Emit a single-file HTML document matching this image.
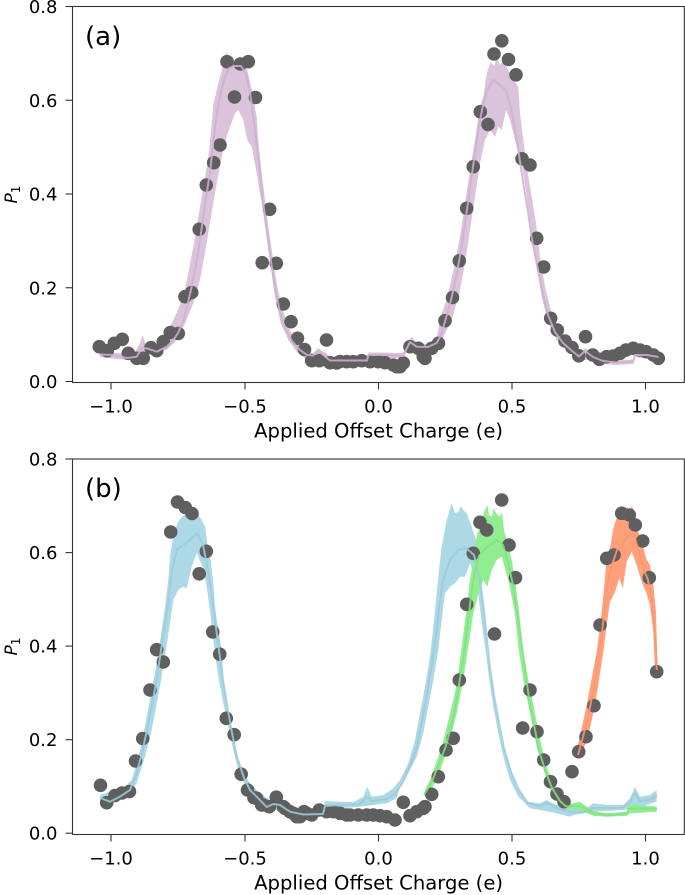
<!DOCTYPE html>
<html><head><meta charset="utf-8"><style>html,body{margin:0;padding:0;background:#fff}svg{display:block}</style></head>
<body>
<svg width="685" height="895" viewBox="0 0 685 895" xmlns="http://www.w3.org/2000/svg" font-family="'DejaVu Sans','Liberation Sans',sans-serif">
<rect width="685" height="895" fill="#fff"/>

<!-- ===== Panel (a) ===== -->
<polygon fill="#dbc3dc" points="99.3,351.7 120,353.3 133.3,355 140,343 142.7,335 145,343 153.3,346.7 160,343 166.7,333.3 175,316.7 183.3,296.7 188.3,273.3 193.3,246.7 197.3,223.3 201.7,196.7 205.7,173.3 209.3,150 211.7,123.3 213.3,105 218.3,83.3 222.7,66.7 226.7,51.7 229.3,60 232,56 236.7,65 240,58 243.3,63.3 247.3,70 251.7,90 256.7,116.7 258.3,140 261.7,173.3 265,200 268.3,226.7 272.7,256.7 277.3,286.7 282.7,310 290,330 298.3,345 306.7,351.7 313.3,353.3 318.3,348 322,351 326.7,353.3 330,358 366.7,358.5 368.3,352.5 380,352.5 396.7,353 403.3,352.5 406.7,345 411.7,336.7 416.7,343.3 430,344 436.7,338.3 440,320 448.3,293.3 455,263.3 460,236.7 465,203.3 470,170 475,140 480,106.7 483.3,96.7 486.7,73.3 490.7,61.7 494,66 497,58 500,65 503,61 507.3,68.3 513.3,80 518.3,86.7 520,113.3 523.3,140 527.3,170 531.7,196.7 536,223.3 540,256.7 545,286.7 551.7,313.3 560,330 570,343.3 573.3,351.5 580,355.5 585,348 593.3,354.5 603.3,359 616.7,360.5 633.3,359.5 635,352 646.7,352 658.5,354.5 658.5,359 646.7,358 635,357.5 633.3,364 616.7,365 603.3,364 593.3,360 580,360 578.3,355 566.7,350 556.7,340 548.3,323.3 541.7,296.7 536.7,266.7 531.7,233.3 526.7,196.7 521.7,163.3 515,140 510,120 506,110 501.7,130 498.3,126.7 495,136.7 490,130 485,140 480,163.3 475,196.7 470,230 465,263.3 459.3,293.3 451.7,320 443,338 436.7,347 425,349 416.7,349 411.7,344 406.7,351 403.3,358 368.3,358 366.7,362.5 330,362.5 320,357 310,358.5 305,358.3 296.7,351.7 288.3,340 280.7,323.3 275,296.7 270.7,266.7 266,233.3 261.7,203.3 256.7,173.3 251.7,146.7 247.3,140 243.3,120 238.3,110 235,113.3 230,126.7 226.7,136.7 223.3,150 217.3,180 213.3,203.3 209.3,226.7 205,253.3 200,280 193.3,303.3 185,323.3 176.7,340 166.7,350 153.3,353 140,357 126.7,360 100,357.3"/>

<g fill="#5f5f5f">
<circle cx="99.3" cy="346.7" r="6.8"/><circle cx="107.3" cy="350.7" r="6.8"/><circle cx="114.3" cy="343.3" r="6.8"/><circle cx="122.3" cy="339.3" r="6.8"/><circle cx="128.3" cy="353.3" r="6.8"/><circle cx="136.7" cy="358.3" r="6.8"/><circle cx="143.3" cy="358.3" r="6.8"/><circle cx="151" cy="347.7" r="6.8"/><circle cx="156.7" cy="350.7" r="6.8"/><circle cx="163.3" cy="341.7" r="6.8"/><circle cx="170.3" cy="332.5" r="6.8"/><circle cx="178.3" cy="333.5" r="6.8"/><circle cx="185" cy="296.7" r="6.8"/><circle cx="191.7" cy="292.5" r="6.8"/><circle cx="199.2" cy="229.3" r="6.8"/><circle cx="206.3" cy="185" r="6.8"/><circle cx="213.7" cy="162.7" r="6.8"/><circle cx="220" cy="145" r="6.8"/><circle cx="227" cy="61.7" r="6.8"/><circle cx="240.3" cy="64" r="6.8"/><circle cx="248.3" cy="61.7" r="6.8"/><circle cx="234.5" cy="97" r="6.8"/><circle cx="255.5" cy="97.5" r="6.8"/><circle cx="269.7" cy="209.3" r="6.8"/><circle cx="262.2" cy="262.7" r="6.8"/><circle cx="276.3" cy="263.3" r="6.8"/><circle cx="283.3" cy="304" r="6.8"/><circle cx="291" cy="321.7" r="6.8"/><circle cx="297.5" cy="338.3" r="6.8"/><circle cx="304.5" cy="349.5" r="6.8"/><circle cx="311.7" cy="360.7" r="6.8"/><circle cx="319.3" cy="360.7" r="6.8"/><circle cx="326.5" cy="340" r="6.8"/><circle cx="330" cy="362.7" r="6.8"/><circle cx="336.7" cy="363" r="6.8"/><circle cx="340" cy="361.5" r="6.8"/><circle cx="346.7" cy="361.7" r="6.8"/><circle cx="353.3" cy="361.7" r="6.8"/><circle cx="361.7" cy="360.7" r="6.8"/><circle cx="370" cy="361.7" r="6.8"/><circle cx="378.3" cy="361.7" r="6.8"/><circle cx="385" cy="362.7" r="6.8"/><circle cx="393.3" cy="365" r="6.8"/><circle cx="396.7" cy="366.7" r="6.8"/><circle cx="400" cy="366.7" r="6.8"/><circle cx="403.3" cy="363" r="6.8"/><circle cx="410" cy="346.7" r="6.8"/><circle cx="418.3" cy="348.3" r="6.8"/><circle cx="423.3" cy="356.7" r="6.8"/><circle cx="425" cy="358.3" r="6.8"/><circle cx="431.7" cy="348.3" r="6.8"/><circle cx="438.5" cy="343.3" r="6.8"/><circle cx="445" cy="320.7" r="6.8"/><circle cx="452.5" cy="297.5" r="6.8"/><circle cx="459.3" cy="260.8" r="6.8"/><circle cx="466.7" cy="208.3" r="6.8"/><circle cx="473.3" cy="166.7" r="6.8"/><circle cx="480.3" cy="111.7" r="6.8"/><circle cx="488" cy="124.5" r="6.8"/><circle cx="494" cy="54" r="6.8"/><circle cx="501.8" cy="40.8" r="6.8"/><circle cx="508.5" cy="59.5" r="6.8"/><circle cx="516" cy="74.8" r="6.8"/><circle cx="522" cy="158.8" r="6.8"/><circle cx="530" cy="165" r="6.8"/><circle cx="536.7" cy="238.3" r="6.8"/><circle cx="543.7" cy="267" r="6.8"/><circle cx="550.7" cy="318.3" r="6.8"/><circle cx="557.3" cy="330" r="6.8"/><circle cx="565" cy="341" r="6.8"/><circle cx="572" cy="347.5" r="6.8"/><circle cx="578.8" cy="355.8" r="6.8"/><circle cx="585.5" cy="336.7" r="6.8"/><circle cx="592.7" cy="355" r="6.8"/><circle cx="599.3" cy="359.3" r="6.8"/><circle cx="606.7" cy="356.7" r="6.8"/><circle cx="613.3" cy="356" r="6.8"/><circle cx="620" cy="353.3" r="6.8"/><circle cx="626" cy="350" r="6.8"/><circle cx="633.3" cy="348.3" r="6.8"/><circle cx="640" cy="350" r="6.8"/><circle cx="646" cy="351.7" r="6.8"/><circle cx="653.3" cy="355" r="6.8"/><circle cx="658.3" cy="358.3" r="6.8"/>
</g>

<polyline fill="none" stroke="#ceb0cf" stroke-width="2" stroke-linejoin="round" opacity="0.85" points="99.3,354.5 113.3,355 126.7,358 136.7,356.7 141.7,348.3 146.7,348.3 156.7,351.7 166.7,346.7 173.3,340 178,333 183,322 187.5,305 192,285 196.5,262 200,240 203.5,215 207,192 210.5,168 213,145 216,120 219.5,98 224,80 229,68 235,66 241,66 246,74 250,92 253,115 255.5,135 258,155 260.5,180 263.5,205 267,230 270.5,258 274.5,285 279.5,310 285,328 292,341 300,350 307,355 313,355.5 318,351 322,354 330,360.5 367,360.5 368.3,355 390,355 403.3,356 407,348 410,342 416.7,346.7 428,347 436.7,343 441,335 446,318 451,300 456,278 461,250 465.5,220 469.5,192 473.5,163 477.5,135 482,110 487,90 493,80 500,85 506,90 511,108 515.5,132 519.5,158 523.5,185 528,212 532,240 537,265 542,290 548,315 555,332 563,343 571,350 579,356.5 585,351 593,357 603,361 617,362.5 633.3,361.5 635,355 646.7,355 658.5,357"/>

<!-- axes (a) -->
<g stroke="#333" stroke-width="1.1" fill="none">
<rect x="72.5" y="6.5" width="611.8" height="376"/>
<line x1="65.5" y1="381.5" x2="72.5" y2="381.5"/><line x1="65.5" y1="287.75" x2="72.5" y2="287.75"/><line x1="65.5" y1="194" x2="72.5" y2="194"/><line x1="65.5" y1="100.25" x2="72.5" y2="100.25"/><line x1="65.5" y1="6.5" x2="72.5" y2="6.5"/>
<line x1="111" y1="382.5" x2="111" y2="389.5"/><line x1="245" y1="382.5" x2="245" y2="389.5"/><line x1="378.5" y1="382.5" x2="378.5" y2="389.5"/><line x1="512" y1="382.5" x2="512" y2="389.5"/><line x1="645.5" y1="382.5" x2="645.5" y2="389.5"/>
</g>
<g font-size="18" fill="#000" text-anchor="end">
<text x="57.5" y="388">0.0</text><text x="57.5" y="294.3">0.2</text><text x="57.5" y="200.5">0.4</text><text x="57.5" y="106.8">0.6</text><text x="57.5" y="13">0.8</text>
</g>
<g font-size="18" fill="#000" text-anchor="middle">
<text x="111" y="412.5">−1.0</text><text x="245" y="412.5">−0.5</text><text x="378.5" y="412.5">0.0</text><text x="512" y="412.5">0.5</text><text x="645.5" y="412.5">1.0</text>
</g>
<text x="378.6" y="437.4" font-size="19.6" text-anchor="middle" fill="#000">Applied Offset Charge (e)</text>
<text transform="translate(17,194.5) rotate(-90)" text-anchor="middle" font-size="17" fill="#000"><tspan font-style="italic">P</tspan><tspan font-size="12" dy="3">1</tspan></text>
<text x="85" y="45" font-size="26" fill="#000">(a)</text>

<!-- ===== Panel (b) ===== -->
<polygon fill="#add8e6" points="100,795 110,791.7 123.3,788.3 131.7,780 136.7,763.3 141.7,743.3 146.7,716.7 151.7,690 156.7,663.3 160.7,636.7 165,606.7 168.3,580 170,556.7 173.3,536.7 177.3,523.3 181.7,516.7 186,514 190,513.3 193,509 196.7,510 199,516 201.7,520 205,526.7 207.3,543.3 210.7,560 213.3,583.3 215,606.7 218.3,630 221.7,650 223.3,676.7 226.7,703.3 231.7,730 236.7,753.3 243.3,773.3 250,783.3 260,793.3 270,800 276.7,798.3 290,806.7 303.3,810 323,811 325,801 353.3,802.3 363.3,796.7 367.3,786.7 371.7,796.7 383.3,795 393.3,788.3 400,780 408.3,763.3 415,740 420,713.3 425,686.7 430,656.7 433.3,626.7 436.7,593.3 439.3,566.7 441.7,546.7 446.7,520 451.7,503.3 455,513.3 458.3,511.7 461,506 463.3,510 466.7,513.3 471.7,526.7 476,540 478.3,566.7 481.7,590 485,620 487.3,653.3 491.7,680 496.7,713.3 501.7,740 508.3,763.3 516.7,786.7 526.7,801.7 540,803.3 546.7,800 556.7,805 570,808.3 586.7,808.3 593.3,803.3 606.7,805 623.3,805 630,798.3 635,786.7 640,796.7 650,795 656.7,790 656.7,801.7 640,806.7 623.3,810 593.3,811.7 573.3,815 570,816.7 556.7,813.3 540,810 530,808.3 518.3,796.7 510,780 503.3,756.7 498.3,733.3 493.3,706.7 489.3,680 486,653.3 481.7,623.3 478.3,593.3 475,576.7 470,563.3 465,576.7 460,576.7 455,583.3 450,586.7 445,593.3 441.7,620 438.3,650 433.3,680 428.3,706.7 423.3,733.3 416.7,756.7 408.3,773.3 400,786.7 396.7,798.3 386.7,803.3 373.3,805 360,806.7 340,808.3 325,808.5 323,816 310,818.3 296.7,820 283.3,815 273.3,808.3 263.3,806.7 253.3,796.7 245,785 238.3,770 233.3,750 228.3,726.7 223.3,703.3 218.3,676.7 214,646.7 210.7,616.7 206.7,586.7 202.7,566.7 196.7,553.3 191.7,566.7 186.7,588.3 182.7,586.7 178.3,590 173.3,600 170,623.3 166,650 161.7,676.7 156.7,703.3 151.7,730 145,756.7 136.7,783.3 126.7,795 116.7,801.7 105,805 100,801.7"/>

<polygon fill="#90ee90" points="423.3,795 426,788 430,780 436,763 441.7,746.7 446,730 450,713.3 454,697 457.3,680 461.7,646.7 466,613.3 470,580 473.3,560 475,546.7 477.3,533.3 481.7,523.3 484,512 487.3,505 489,515 491.7,516.7 494,508 496,513.3 500,516.7 502,512 504,530 508.3,546.7 511.7,560 515,580 519.3,613.3 522.7,646.7 528.3,680 535,713.3 541.7,746.7 546,765 551.7,780 558.3,796.7 566.7,804 573.3,803.3 580,801.7 586.7,806.7 593.3,811 606.7,813.3 626.7,811.7 628.3,804.7 640,804.7 656.7,806.7 656.7,811.7 630,813.3 626.7,815.7 606.7,816.7 593.3,815.7 580,810 570,809 563.3,810 553.3,796.7 546.7,780 536.7,746.7 530,713.3 523.3,680 518.3,646.7 515,613.3 508.3,580 501.7,556.7 496.7,560 491.7,570 487.3,586.7 483.3,580 478,595 473.3,613.3 468.3,646.7 463.3,680 456.7,713.3 448.3,746.7 436.7,780 428,795"/>

<polygon fill="#ffa07a" points="576.7,750 581.7,728.3 586.7,705 591.7,678.3 596.7,651.7 600.7,621.7 604,588.3 606.7,558.3 610.7,545 613.3,528.3 616.7,518.3 621,505 623,511 625,511.7 627,507 630,510 632,506 635,515 638.3,531.7 642.7,545 646,558.3 650,565 653.3,585 656,611.7 657.3,658.3 658.3,671.7 655,671.7 653.3,631.7 650,605 646,591.7 641.7,581.7 636.7,565 631.7,551.7 626.7,561.7 622.7,588.3 619.3,578.3 615,591.7 610,601.7 606.7,625 603.3,651.7 599.3,678.3 595,705 590,728.3 585,745 579.3,756.7"/>

<g fill="#5f5f5f">
<circle cx="100.5" cy="785.3" r="6.8"/><circle cx="106.7" cy="802.7" r="6.8"/><circle cx="115" cy="795.5" r="6.8"/><circle cx="122" cy="793" r="6.8"/><circle cx="129.5" cy="791.5" r="6.8"/><circle cx="135.5" cy="761" r="6.8"/><circle cx="142.7" cy="738.5" r="6.8"/><circle cx="150" cy="690" r="6.8"/><circle cx="156.7" cy="649.7" r="6.8"/><circle cx="163.3" cy="662" r="6.8"/><circle cx="170.7" cy="532" r="6.8"/><circle cx="177.5" cy="502" r="6.8"/><circle cx="185.3" cy="507.5" r="6.8"/><circle cx="192" cy="513.5" r="6.8"/><circle cx="199.2" cy="573.8" r="6.8"/><circle cx="206.3" cy="551.3" r="6.8"/><circle cx="212.7" cy="632" r="6.8"/><circle cx="219.7" cy="654.2" r="6.8"/><circle cx="226.3" cy="718.3" r="6.8"/><circle cx="234.2" cy="734.7" r="6.8"/><circle cx="241.2" cy="774.2" r="6.8"/><circle cx="247.5" cy="790" r="6.8"/><circle cx="254" cy="797.7" r="6.8"/><circle cx="256.7" cy="798.3" r="6.8"/><circle cx="261.7" cy="805" r="6.8"/><circle cx="263.3" cy="805" r="6.8"/><circle cx="269.3" cy="806.7" r="6.8"/><circle cx="276.3" cy="797.2" r="6.8"/><circle cx="283.3" cy="806.7" r="6.8"/><circle cx="285" cy="808.3" r="6.8"/><circle cx="290" cy="811.7" r="6.8"/><circle cx="293.3" cy="813.3" r="6.8"/><circle cx="296.7" cy="816.7" r="6.8"/><circle cx="300" cy="816.7" r="6.8"/><circle cx="304" cy="811.7" r="6.8"/><circle cx="306.7" cy="813.3" r="6.8"/><circle cx="311.7" cy="815" r="6.8"/><circle cx="319.3" cy="810" r="6.8"/><circle cx="326.7" cy="811.7" r="6.8"/><circle cx="333.3" cy="811.7" r="6.8"/><circle cx="340" cy="813.3" r="6.8"/><circle cx="346.7" cy="815" r="6.8"/><circle cx="350" cy="815" r="6.8"/><circle cx="358.3" cy="815" r="6.8"/><circle cx="366.7" cy="815" r="6.8"/><circle cx="373.3" cy="815" r="6.8"/><circle cx="380" cy="815.7" r="6.8"/><circle cx="386.7" cy="816.7" r="6.8"/><circle cx="395" cy="820" r="6.8"/><circle cx="403.3" cy="802.3" r="6.8"/><circle cx="410" cy="815.7" r="6.8"/><circle cx="416.7" cy="811.7" r="6.8"/><circle cx="423.3" cy="808.3" r="6.8"/><circle cx="425" cy="806.7" r="6.8"/><circle cx="431.7" cy="794.3" r="6.8"/><circle cx="438.3" cy="776.7" r="6.8"/><circle cx="446" cy="750" r="6.8"/><circle cx="453.3" cy="738.3" r="6.8"/><circle cx="459.3" cy="680" r="6.8"/><circle cx="466.7" cy="604.3" r="6.8"/><circle cx="473.3" cy="553.3" r="6.8"/><circle cx="480" cy="522.3" r="6.8"/><circle cx="486.7" cy="530" r="6.8"/><circle cx="494.5" cy="634" r="6.8"/><circle cx="501.7" cy="500" r="6.8"/><circle cx="509" cy="545" r="6.8"/><circle cx="515.5" cy="577.7" r="6.8"/><circle cx="522.7" cy="728" r="6.8"/><circle cx="530" cy="690" r="6.8"/><circle cx="537" cy="731.7" r="6.8"/><circle cx="543.7" cy="760" r="6.8"/><circle cx="550.5" cy="781.7" r="6.8"/><circle cx="557" cy="794" r="6.8"/><circle cx="564" cy="801.7" r="6.8"/><circle cx="572" cy="771.7" r="6.8"/><circle cx="578.7" cy="751.7" r="6.8"/><circle cx="586" cy="736.7" r="6.8"/><circle cx="594" cy="705.7" r="6.8"/><circle cx="600" cy="625" r="6.8"/><circle cx="606.7" cy="558.3" r="6.8"/><circle cx="614" cy="555" r="6.8"/><circle cx="621.7" cy="513.3" r="6.8"/><circle cx="629.3" cy="515" r="6.8"/><circle cx="635.3" cy="525" r="6.8"/><circle cx="642.7" cy="541" r="6.8"/><circle cx="649.3" cy="577.7" r="6.8"/><circle cx="656.7" cy="671.7" r="6.8"/>
</g>

<g fill="none" stroke-width="2" stroke-linejoin="round" opacity="0.85">
<polyline stroke="#9ccbdb" points="100.5,798 110,801.7 120,796.7 130,790 136,775 142,753 147,730 152,705 157,678 161,650 165,625 168.5,600 172,570 177,550 183,545 190,540 197,533 203,545 207,565 211,590 215,620 219,650 223,680 227,705 232,733 237,757 244,778 250,790 256.7,796.7 266.7,807 273.3,804 280,805 290,811.7 303.3,814.5 323,814 325,806 340,805 360,804 367,797 372,801 386.7,799 396,793 403,782 410,766 416,750 421,726 426,700 431,670 436,635 439.5,605 443,580 450,560 458,550 466,548 474,555 480,580 484,610 487,640 490,668 494,695 499,723 504,748 511,772 519,790 528,803 540,806 547,803 557,808 573,812.5 587,812 593,808 607,808 623,807.5 630,802 635,793 640,801 650,800 657,796"/>
<polyline stroke="#85e085" points="424,795 431.7,782 438.5,765 445.5,747 451.5,725 457,698 461,672 465,645 468.5,618 471.5,592 475,570 479,556 484,550 490,545 497,540 503,545 508,562 513,585 517,612 521,640 525,670 529,698 534,725 539,750 545,770 552,788 560,801 566,806.5 573,806 580,806 587,809 593.3,813.3 607,815 627,814 628.3,809 640,808.5 657,809"/>
<polyline stroke="#f89a74" points="578,755 583,737 588,717 593,692 597.5,665 601.5,637 605,606 608,580 612,565 617,550 622,545 628,535 634,535 640,555 644,570 648,580 651.5,598 654,622 656,650 656.7,670"/>
</g>

<!-- axes (b) -->
<g stroke="#333" stroke-width="1.1" fill="none">
<rect x="72.5" y="459" width="611.8" height="375.5"/>
<line x1="65.5" y1="833.2" x2="72.5" y2="833.2"/><line x1="65.5" y1="739.7" x2="72.5" y2="739.7"/><line x1="65.5" y1="646.1" x2="72.5" y2="646.1"/><line x1="65.5" y1="552.6" x2="72.5" y2="552.6"/><line x1="65.5" y1="459" x2="72.5" y2="459"/>
<line x1="111" y1="834.5" x2="111" y2="841.5"/><line x1="245" y1="834.5" x2="245" y2="841.5"/><line x1="378.5" y1="834.5" x2="378.5" y2="841.5"/><line x1="512" y1="834.5" x2="512" y2="841.5"/><line x1="645.5" y1="834.5" x2="645.5" y2="841.5"/>
</g>
<g font-size="18" fill="#000" text-anchor="end">
<text x="57.5" y="839.7">0.0</text><text x="57.5" y="746.2">0.2</text><text x="57.5" y="652.6">0.4</text><text x="57.5" y="559.1">0.6</text><text x="57.5" y="465.5">0.8</text>
</g>
<g font-size="18" fill="#000" text-anchor="middle">
<text x="111" y="864.3">−1.0</text><text x="245" y="864.3">−0.5</text><text x="378.5" y="864.3">0.0</text><text x="512" y="864.3">0.5</text><text x="645.5" y="864.3">1.0</text>
</g>
<text x="378.6" y="889.7" font-size="19.6" text-anchor="middle" fill="#000">Applied Offset Charge (e)</text>
<text transform="translate(17,646.5) rotate(-90)" text-anchor="middle" font-size="17" fill="#000"><tspan font-style="italic">P</tspan><tspan font-size="12" dy="3">1</tspan></text>
<text x="85" y="497" font-size="26" fill="#000">(b)</text>
</svg>
</body></html>
